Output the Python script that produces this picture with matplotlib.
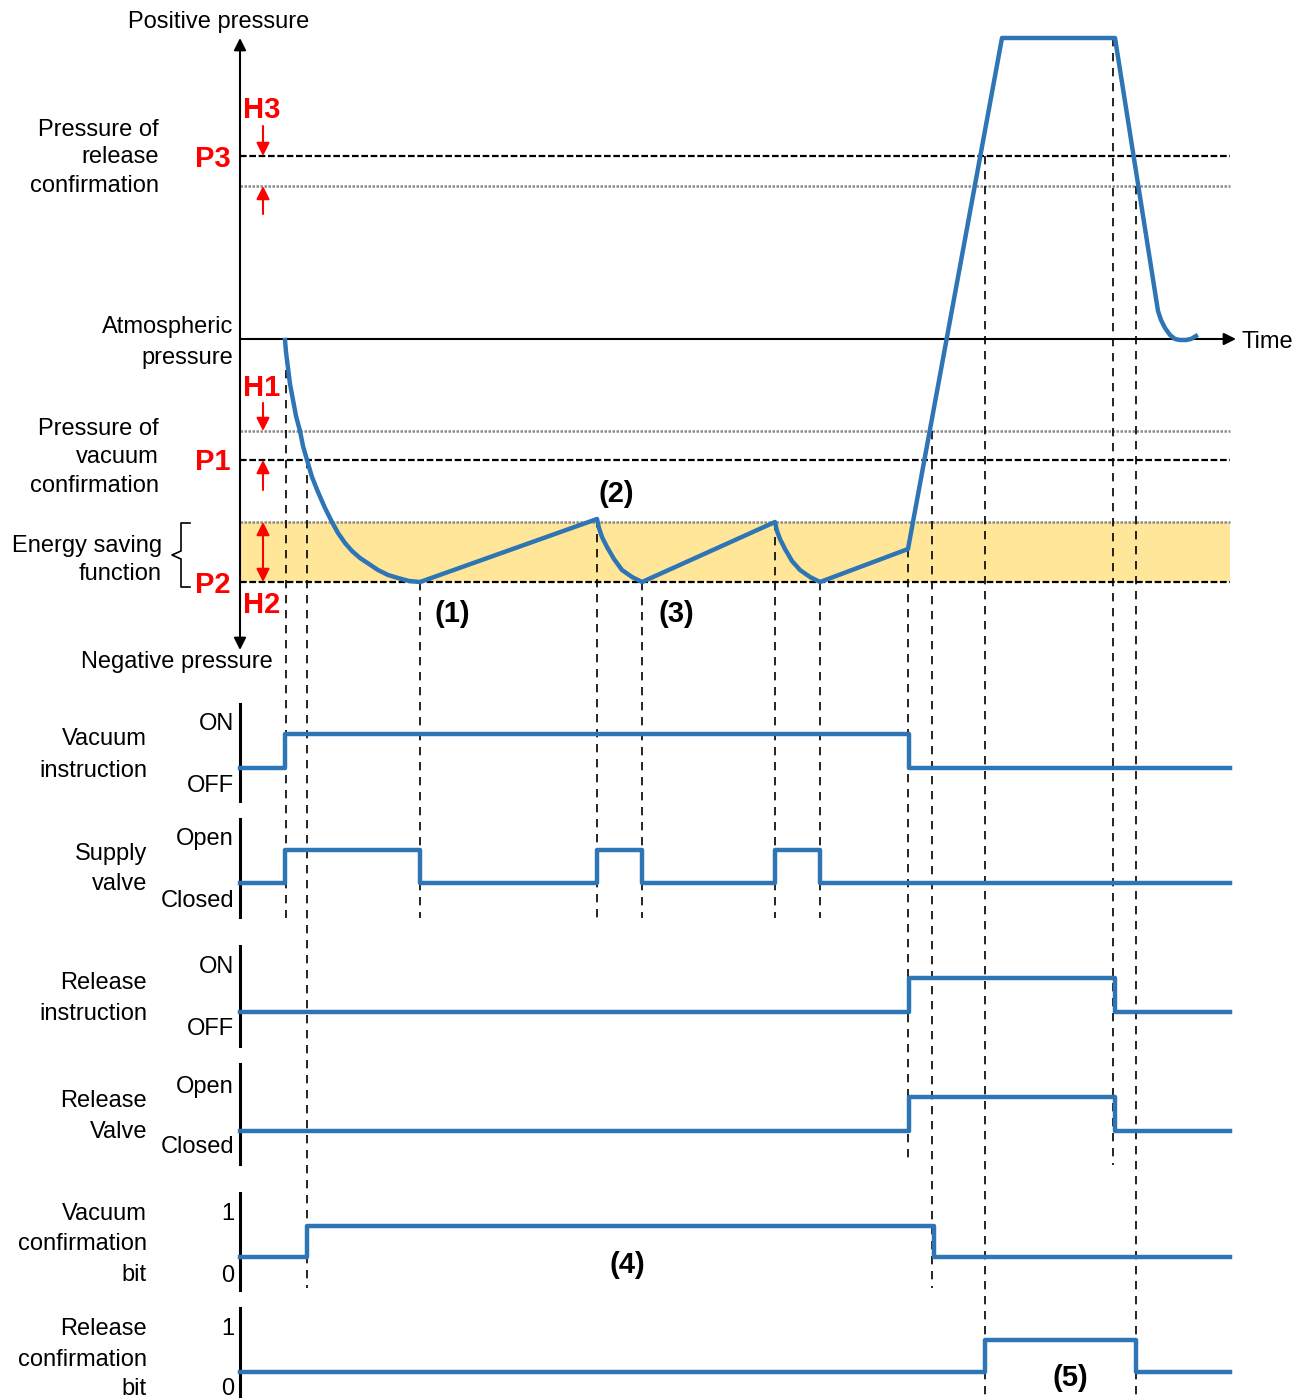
import matplotlib.pyplot as plt

plt.rcParams['font.family'] = ['Liberation Sans', 'DejaVu Sans']

BLUE = '#2E75B6'
RED = '#FF0000'

# pressure levels (pixel rows of the drawing)
y_atm = 339
y_p3, y_p3_h = 156, 186
y_p1_h, y_p1 = 431, 460
y_p2_top, y_p2 = 522, 582

# pressure curve
press_x = [285, 286, 288, 290, 293, 296, 300, 303, 307, 312, 318, 325, 332, 338, 345, 352, 360, 369, 378, 388, 398, 409, 420,
           597, 599, 602, 607, 614, 622, 632, 642,
           775, 777, 780, 785, 792, 800, 810, 820,
           908, 1002, 1115, 1158, 1161, 1165, 1170, 1175, 1180, 1186, 1191, 1196]
press_y = [340, 352, 368, 384, 400, 416, 431, 446, 460, 477, 492, 508, 522, 533, 543, 551, 558, 564, 570, 575, 578, 581, 582,
           519, 528, 537, 547, 559, 570, 577, 582,
           522, 531, 539, 549, 561, 570, 577, 582,
           549, 38, 38, 311, 320, 328, 335, 339, 340, 340, 339, 336]

# timing signals: switch times and levels
x_end = 1230
vac_instr_t = [240, 285, 909, x_end]
vac_instr_v = [0, 1, 0, 0]
supply_t = [240, 285, 420, 597, 642, 775, 820, x_end]
supply_v = [0, 1, 0, 1, 0, 1, 0, 0]
rel_instr_t = [240, 909, 1115, x_end]
rel_instr_v = [0, 1, 0, 0]
rel_valve_t = [240, 909, 1115, x_end]
rel_valve_v = [0, 1, 0, 0]
vac_bit_t = [240, 307, 934, x_end]
vac_bit_v = [0, 1, 0, 0]
rel_bit_t = [240, 985, 1136, x_end]
rel_bit_v = [0, 1, 0, 0]

# panels: name lines, state labels, bar top/bottom, low/high rows
panels = [
    (['Vacuum', 'instruction'], [745, 777], ('ON', 'OFF'), (730, 792), (704, 801), (768, 734), vac_instr_t, vac_instr_v),
    (['Supply', 'valve'], [860, 890], ('Open', 'Closed'), (845, 907), (819, 917), (883, 850), supply_t, supply_v),
    (['Release', 'instruction'], [989, 1020], ('ON', 'OFF'), (973, 1035), (946, 1046), (1012, 978), rel_instr_t, rel_instr_v),
    (['Release', 'Valve'], [1107, 1138], ('Open', 'Closed'), (1093, 1153), (1064, 1164), (1131, 1097), rel_valve_t, rel_valve_v),
    (['Vacuum', 'confirmation', 'bit'], [1220, 1250, 1281], ('1', '0'), (1220, 1282), (1193, 1290), (1257, 1226), vac_bit_t, vac_bit_v),
    (['Release', 'confirmation', 'bit'], [1335, 1366, 1395], ('1', '0'), (1335, 1395), (1308, 1398), (1372, 1340), rel_bit_t, rel_bit_v),
]

# dashed guide lines: x, top, bottom
guides = [(286, 340, 918), (307, 460, 1288), (420, 582, 918), (597, 519, 918),
          (642, 582, 918), (775, 522, 918), (820, 582, 918), (908, 549, 1160),
          (932, 431, 1288), (985, 156, 1398), (1113, 38, 1165), (1136, 186, 1398)]

fig = plt.figure(figsize=(13.07, 13.98), dpi=100)
ax = fig.add_axes([0, 0, 1, 1])
ax.set_xlim(0, 1307)
ax.set_ylim(1398, 0)
ax.axis('off')

# energy saving band
ax.fill_between([240, x_end], y_p2_top, y_p2, color='#FFE699', lw=0, zorder=0)

# level lines
for y in [y_p3, y_p1, y_p2]:
    ax.plot([240, x_end], [y, y], color='black', lw=1.6, ls=(0, (3, 1.2)), zorder=1)
for y in [y_p3_h, y_p1_h, y_p2_top]:
    ax.plot([240, x_end], [y, y], color='#8c8c8c', lw=1.8, ls=(0, (1, 0.6)), zorder=1)

# guides
for gx, y0, y1 in guides:
    ax.plot([gx, gx], [y0, y1], color='black', lw=1.2, ls=(0, (5, 4)), zorder=1)

# axes arrows
ax.annotate('', xy=(240, 38), xytext=(240, 650),
            arrowprops=dict(arrowstyle='<|-|>', color='black', lw=1.5,
                            mutation_scale=18, shrinkA=0, shrinkB=0))
ax.annotate('', xy=(1236, y_atm), xytext=(240, y_atm),
            arrowprops=dict(arrowstyle='-|>', color='black', lw=1.5,
                            mutation_scale=18, shrinkA=0, shrinkB=0))

# red hysteresis arrows
head = '-|>,head_length=0.56,head_width=0.28'
red_arrows = [((263, 126), (263, y_p3)), ((263, 214), (263, y_p3_h)),
              ((263, 403), (263, y_p1_h)), ((263, 490), (263, y_p1))]
for start, end in red_arrows:
    ax.annotate('', xy=end, xytext=start,
                arrowprops=dict(arrowstyle=head, color=RED, lw=1.5,
                                mutation_scale=14, shrinkA=0, shrinkB=0))
ax.annotate('', xy=(263, y_p2_top), xytext=(263, y_p2),
            arrowprops=dict(arrowstyle='<|-|>,head_length=0.56,head_width=0.28', color=RED, lw=1.5,
                            mutation_scale=14, shrinkA=0, shrinkB=0))

# pressure curve
ax.plot(press_x, press_y, color=BLUE, lw=3.2, solid_joinstyle='round', zorder=3)

# brace
ax.plot([190, 181, 181, 172, 181, 181, 190], [523, 523, 551, 555, 559, 587, 587],
        color='black', lw=1.2)

fs = 17
txt = dict(fontsize=fs, color='black', va='baseline')
ax.text(219, 28, 'Positive pressure', ha='center', **txt)
ax.text(177, 668, 'Negative pressure', ha='center', **txt)
ax.text(1242, 348, 'Time', ha='left', **txt)
for s, y in zip(['Pressure of', 'release', 'confirmation'], [136, 163, 192]):
    ax.text(159, y, s, ha='right', **txt)
for s, y in zip(['Atmospheric', 'pressure'], [333, 364]):
    ax.text(233, y, s, ha='right', **txt)
for s, y in zip(['Pressure of', 'vacuum', 'confirmation'], [435, 463, 492]):
    ax.text(159, y, s, ha='right', **txt)
for s, y in zip(['Energy saving', 'function'], [552, 580]):
    ax.text(162, y, s, ha='right', **txt)

rtxt = dict(fontsize=21, color=RED, fontweight='bold', va='baseline', ha='left')
ax.text(243, 118, 'H3', **rtxt)
ax.text(195, 167, 'P3', **rtxt)
ax.text(243, 396, 'H1', **rtxt)
ax.text(195, 470, 'P1', **rtxt)
ax.text(195, 593, 'P2', **rtxt)
ax.text(243, 613, 'H2', **rtxt)

btxt = dict(fontsize=21, color='black', fontweight='bold', va='baseline', ha='center')
notes = [('(1)', 452, 622), ('(2)', 616, 502), ('(3)', 676, 622),
         ('(4)', 627, 1273), ('(5)', 1070, 1386)]
for s, x, y in notes:
    ax.text(x, y, s, **btxt)

# timing panels
for names, name_y, states, state_y, bar, lv, t, v in panels:
    for s, y in zip(names, name_y):
        ax.text(147, y, s, ha='right', **txt)
    ax.text(234, state_y[0], states[0], ha='right', **txt)
    ax.text(234, state_y[1], states[1], ha='right', **txt)
    ax.plot([240, 240], bar, color='black', lw=2.2)
    ys = [lv[0] + val * (lv[1] - lv[0]) for val in v]
    ax.step(t, ys, where='post', color=BLUE, lw=3.2, zorder=3)

fig.savefig('out.png', dpi=100)
